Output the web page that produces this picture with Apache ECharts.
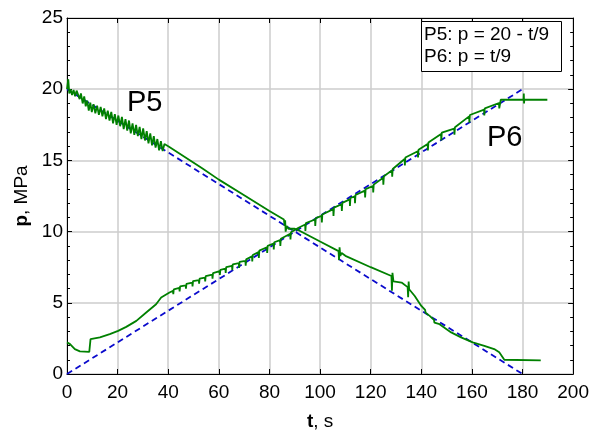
<!DOCTYPE html>
<html>
<head>
<meta charset="utf-8">
<script src="https://cdn.jsdelivr.net/npm/echarts@6/dist/echarts.min.js"></script>
<style>
  html, body { margin: 0; padding: 0; background: #fff; }
  #chart { width: 592px; height: 436px; }
</style>
</head>
<body>
<div id="chart"></div>
<script>
// Axis ranges and tick steps
const xRange = [0, 200];
const xStep = 20;
const yRange = [0, 25];
const yStep = 5;

// Reference pressure lines (end points): P5: p = 20 - t/9, P6: p = t/9
const p5Reference = [[0, 20], [180, 0]];
const p6Reference = [[0, 0], [180, 20]];

// Measured pressure P5 [t (s), p (MPa)]
const p5Measured = [
  [0, 20.0], [0.5, 20.7], [0.9, 19.7], [1.4, 20.0], [2.0, 19.6], [2.6, 19.95], [3.2, 19.5], [3.8, 19.9],
  [4.4, 19.9], [5.0, 19.3], [5.5, 19.7], [6.2, 19.0], [6.8, 19.5], [7.4, 18.8], [8.0, 19.2], [8.6, 18.5],
  [9.2, 19.05], [9.8, 18.4], [10.5, 18.95], [11.2, 18.3], [11.9, 18.85], [12.6, 18.2], [13.3, 18.75],
  [14.0, 18.1], [14.7, 18.65], [15.4, 17.9], [16.1, 18.5], [16.8, 17.8], [17.5, 18.4], [18.2, 17.6],
  [18.9, 18.25], [19.6, 17.5], [20.3, 18.15], [21.0, 17.4], [21.7, 18.05], [22.4, 17.2], [23.1, 17.9],
  [23.8, 17.1], [24.5, 17.8], [25.2, 16.9], [25.9, 17.6], [26.6, 16.8], [27.3, 17.5], [28.0, 16.7],
  [28.7, 17.35], [29.4, 16.5], [30.1, 17.25], [30.8, 16.4], [31.5, 17.05], [32.2, 16.2], [32.9, 16.9],
  [33.6, 16.05], [34.3, 16.7], [35.0, 15.9], [35.7, 16.5], [36.4, 15.7], [37.1, 16.35], [37.8, 15.65],
  [38.5, 16.15], [40, 16.0], [53.4, 14.45], [60, 13.65], [70, 12.55], [80, 11.45], [85.7, 10.85],
  [86.0, 10.4], [86.2, 10.8], [86.4, 10.0], [86.8, 10.4], [87.5, 10.2], [90, 10.2], [91.5, 10.1],
  [100, 9.3], [107.3, 8.63], [107.5, 8.0], [107.7, 8.9], [108, 8.3], [108.5, 8.5], [110, 8.3],
  [120, 7.5], [128.2, 6.88], [128.4, 5.85], [128.6, 7.1], [129, 6.5], [132.2, 6.42], [134.6, 6.1],
  [134.8, 5.4], [135, 6.5], [135.2, 5.95], [137.4, 5.48], [140, 4.78], [141.5, 4.5], [141.7, 4.3],
  [143.3, 4.08], [145, 3.8], [145.2, 3.6], [147.2, 3.5], [151.8, 2.92], [155.7, 2.57], [160.3, 2.22],
  [164.9, 1.98], [168.8, 1.75], [170.8, 1.52], [172.8, 1.0], [187.2, 0.95]
];

// Measured pressure P6 [t (s), p (MPa)]
const p6Measured = [
  [0, 2.22], [1.2, 2.1], [3.1, 1.75], [5.1, 1.59], [8.8, 1.56], [9.1, 1.5], [9.3, 2.45], [13, 2.57],
  [16.9, 2.8], [20.2, 3.03], [23.4, 3.31], [27.4, 3.73], [31.3, 4.32], [35.2, 4.9], [37.2, 5.37],
  [40.5, 5.72],
  [41.9, 5.85], [42.0, 5.6], [42.2, 5.95],
  [44.4, 6.05], [44.5, 5.8], [44.7, 6.15],
  [46.9, 6.23], [47.0, 6.0], [47.2, 6.33],
  [49.5, 6.42], [49.6, 6.15], [49.8, 6.52],
  [52.1, 6.6], [52.2, 6.35], [52.4, 6.7],
  [54.5, 6.77], [54.6, 6.5], [54.8, 6.87],
  [57.4, 6.98], [57.5, 6.7], [57.7, 7.08],
  [60.3, 7.22], [60.4, 6.95], [60.6, 7.32],
  [62.6, 7.4], [62.7, 7.1], [62.9, 7.5],
  [65.2, 7.6], [65.3, 7.3], [65.5, 7.7],
  [67.9, 7.78], [68.0, 7.45], [68.2, 7.88],
  [70.5, 7.95], [70.6, 7.6], [70.8, 8.05],
  [73.1, 8.26], [73.2, 7.9], [73.4, 8.36],
  [75.7, 8.56], [75.8, 8.15], [76.0, 8.66],
  [79.0, 8.9], [79.1, 8.5], [79.3, 9.0],
  [81.6, 9.15], [81.7, 8.75], [81.9, 9.25],
  [84.2, 9.4], [84.3, 9.0], [84.5, 9.5],
  [88.2, 9.85], [88.3, 9.45], [88.5, 9.95],
  [91.5, 10.27],
  [94.1, 10.5], [94.2, 10.05], [94.4, 10.6],
  [98.0, 10.85], [98.1, 10.4], [98.3, 10.95],
  [100.6, 11.1], [100.7, 10.65], [100.9, 11.2],
  [105.2, 11.58], [105.3, 11.1], [105.5, 11.68],
  [108.5, 11.92], [108.6, 11.45], [108.8, 12.02],
  [111.7, 12.26], [111.8, 11.8], [112.0, 12.36],
  [113.7, 12.47], [113.8, 12.0], [114.0, 12.57],
  [117.7, 12.88], [117.8, 12.4], [118.0, 12.98],
  [120.9, 13.2], [121.0, 12.75], [121.2, 13.3],
  [124.9, 13.78], [125.0, 13.3], [125.2, 13.88],
  [128.4, 14.3], [128.5, 13.85], [128.7, 14.4],
  [133.4, 15.1], [133.5, 14.65], [133.7, 15.2],
  [138.6, 15.64], [138.7, 15.2], [138.9, 15.74],
  [142.5, 16.15], [142.6, 15.7], [142.8, 16.25],
  [147.8, 16.85], [147.9, 16.4], [148.1, 16.95],
  [153.0, 17.23], [153.1, 16.8], [153.3, 17.33],
  [158.9, 18.09], [159.0, 17.65], [159.2, 18.19],
  [164.8, 18.56], [164.9, 18.15], [165.1, 18.66],
  [170.7, 19.03], [170.8, 18.65], [171.4, 19.26],
  [180.4, 19.26], [180.5, 19.7], [180.6, 19.0], [180.7, 19.26], [189.8, 19.26]
];

// Formula box and curve labels
const formulaLines = ['P5: p = 20 - t/9', 'P6: p = t/9'];
const curveLabels = ['P5', 'P6'];

const FONT = '"Liberation Sans", Arial, sans-serif';
const green = '#008000';
const blue = '#0a0acc';

const chart = echarts.init(document.getElementById('chart'), null, { renderer: 'canvas' });

const gridLine = { show: true, lineStyle: { color: '#cdcdcd', width: 1.5 } };
const frameLine = { show: true, onZero: false, lineStyle: { color: '#000', width: 1 } };

chart.setOption({
  animation: false,
  backgroundColor: '#fff',
  textStyle: { fontFamily: FONT },
  grid: { left: 67, right: 16, top: 18, bottom: 60, containLabel: false },
  xAxis: [
    {
      type: 'value', min: xRange[0], max: xRange[1], interval: xStep, position: 'bottom',
      axisLine: frameLine,
      axisTick: { show: true, inside: true, length: 5, lineStyle: { color: '#000' } },
      axisLabel: { color: '#000', fontSize: 19, fontFamily: FONT, margin: 9 },
      splitLine: gridLine,
      name: '{b|t}, s', nameLocation: 'middle', nameGap: 38,
      nameTextStyle: {
        color: '#000', fontSize: 19, fontFamily: FONT,
        rich: { b: { fontWeight: 'bold', fontSize: 19, fontFamily: FONT, color: '#000' } }
      }
    },
    {
      type: 'value', min: xRange[0], max: xRange[1], interval: xStep, position: 'top',
      axisLine: frameLine,
      axisTick: { show: true, inside: true, length: 5, lineStyle: { color: '#000' } },
      axisLabel: { show: false }, splitLine: { show: false }
    }
  ],
  yAxis: [
    {
      type: 'value', min: yRange[0], max: yRange[1], interval: yStep, position: 'left',
      axisLine: frameLine,
      axisTick: { show: true, inside: true, length: 5, lineStyle: { color: '#000' } },
      minorTick: { show: true, splitNumber: 5, length: 3, lineStyle: { color: '#000' } },
      axisLabel: { color: '#000', fontSize: 19, fontFamily: FONT, margin: 4 },
      splitLine: gridLine,
      name: '{b|p}, MPa', nameLocation: 'middle', nameGap: 36,
      nameTextStyle: {
        color: '#000', fontSize: 19, fontFamily: FONT,
        rich: { b: { fontWeight: 'bold', fontSize: 19, fontFamily: FONT, color: '#000' } }
      }
    },
    {
      type: 'value', min: yRange[0], max: yRange[1], interval: yStep, position: 'right',
      axisLine: frameLine,
      axisTick: { show: true, inside: true, length: 5, lineStyle: { color: '#000' } },
      minorTick: { show: true, splitNumber: 5, length: 3, lineStyle: { color: '#000' } },
      axisLabel: { show: false }, splitLine: { show: false }
    }
  ],
  series: [
    {
      type: 'line', data: p5Reference, showSymbol: false, silent: true,
      lineStyle: { color: blue, width: 1.8, type: [6, 4] }
    },
    {
      type: 'line', data: p6Reference, showSymbol: false, silent: true,
      lineStyle: { color: blue, width: 1.8, type: [6, 4] }
    },
    {
      type: 'line', data: p5Measured, showSymbol: false, silent: true,
      lineStyle: { color: green, width: 1.8 }
    },
    {
      type: 'line', data: p6Measured, showSymbol: false, silent: true,
      lineStyle: { color: green, width: 1.8 }
    }
  ],
  graphic: [
    {
      type: 'rect', shape: { x: 421.5, y: 21.5, width: 140, height: 50 },
      style: { fill: '#fff', stroke: '#000', lineWidth: 1 }, z: 10
    },
    {
      type: 'text', x: 424, y: 25, z: 11,
      style: { text: formulaLines[0], font: '19px ' + FONT, fill: '#000' }
    },
    {
      type: 'text', x: 424, y: 47, z: 11,
      style: { text: formulaLines[1], font: '19px ' + FONT, fill: '#000' }
    },
    {
      type: 'text', x: 127, y: 88, z: 11,
      style: { text: curveLabels[0], font: '29px ' + FONT, fill: '#000' }
    },
    {
      type: 'text', x: 487, y: 123, z: 11,
      style: { text: curveLabels[1], font: '29px ' + FONT, fill: '#000' }
    }
  ]
});
</script>
</body>
</html>
